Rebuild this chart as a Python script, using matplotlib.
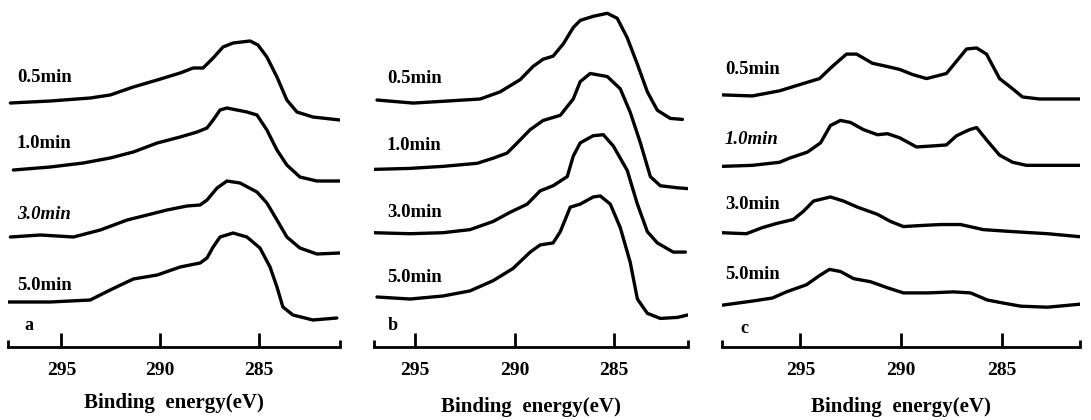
import matplotlib
matplotlib.use("Agg")
import matplotlib.pyplot as plt

plt.rcParams['font.family'] = ['Liberation Serif', 'DejaVu Serif']
plt.rcParams['font.weight'] = 'bold'

# ---------------- data (stacked intensity, a.u.) ----------------
times = ["0.5min", "1.0min", "3.0min", "5.0min"]

# Panel a
a_e05 = [297.58, 295.56, 293.54, 292.53, 291.36, 290.15, 288.99, 288.33, 287.83, 287.32,
         286.82, 286.31, 285.45, 285.05, 284.60, 284.09, 283.59, 283.08, 282.27, 280.91]
a_i05 = [244, 246, 249, 252, 260, 267, 274, 279, 279, 289, 300, 304, 306, 302, 290, 270, 247, 235, 230, 227]
a_e10 = [297.43, 295.56, 293.89, 292.53, 291.36, 290.15, 288.99, 288.13, 287.63, 287.32,
         286.97, 286.62, 285.61, 285.10, 284.60, 284.09, 283.59, 282.93, 282.07, 280.91]
a_i10 = [177, 180, 184, 189, 195, 204, 210, 215, 219, 227, 237, 239, 235, 232, 217, 197, 182, 170, 166, 166]
a_e30 = [297.58, 296.06, 294.39, 293.03, 291.67, 290.86, 289.65, 288.64, 287.98, 287.63,
         287.12, 286.62, 285.96, 285.10, 284.60, 284.09, 283.59, 282.93, 282.07, 280.91]
a_i30 = [110, 112, 110, 117, 127, 131, 137, 141, 142, 147, 159, 166, 164, 155, 144, 127, 110, 99, 93, 94]
a_e50 = [297.68, 295.56, 293.54, 292.53, 291.36, 290.15, 288.99, 287.98, 287.63, 287.32,
         286.97, 286.31, 285.61, 284.95, 284.44, 284.09, 283.79, 283.28, 282.27, 281.06]
a_i50 = [45, 45, 47, 57, 68, 72, 80, 84, 89, 100, 110, 114, 110, 99, 80, 60, 40, 32, 27, 29]

# Panel b
b_e05 = [296.91, 295.10, 293.39, 291.73, 290.73, 289.72, 289.07, 288.57, 288.07, 287.56,
         287.06, 286.71, 286.06, 285.35, 284.85, 284.35, 283.84, 283.34, 282.84, 282.19, 281.58]
b_i05 = [242, 239, 241, 243, 250, 262, 275, 282, 285, 297, 313, 320, 324, 327, 322, 303, 277, 250, 232, 224, 223]
b_e10 = [297.11, 295.25, 293.59, 291.88, 291.08, 290.38, 289.87, 289.22, 288.57, 287.71,
         287.06, 286.71, 286.21, 285.35, 284.70, 284.20, 283.69, 283.19, 282.69, 281.83, 281.18]
b_i10 = [174, 175, 177, 180, 185, 190, 200, 213, 222, 227, 243, 260, 268, 265, 253, 230, 200, 167, 158, 156, 155]
b_e30 = [297.11, 295.25, 293.59, 292.24, 291.08, 290.23, 289.37, 288.72, 288.07, 287.36,
         287.06, 286.71, 286.06, 285.55, 285.05, 284.35, 283.84, 283.34, 282.84, 282.04, 281.43]
b_i30 = [112, 111, 112, 115, 123, 132, 140, 153, 158, 167, 187, 200, 207, 208, 197, 173, 140, 113, 102, 93, 93]
b_e50 = [296.91, 295.25, 293.59, 292.24, 291.08, 290.08, 289.22, 288.72, 288.07, 287.71,
         287.21, 286.71, 286.06, 285.70, 285.20, 284.70, 284.20, 283.84, 283.34, 282.69, 281.83, 281.18]
b_i50 = [49, 47, 50, 55, 65, 77, 93, 100, 102, 113, 137, 140, 147, 148, 140, 117, 83, 47, 33, 28, 29, 32]

# Panel c
c_e05 = [298.88, 297.39, 296.04, 295.05, 294.05, 293.41, 292.71, 292.21, 291.42, 290.72, 290.07,
         289.43, 288.73, 287.74, 287.24, 286.74, 286.24, 285.75, 285.10, 284.45, 283.96, 283.11, 281.97, 281.02]
c_i05 = [247, 246, 251, 257, 263, 275, 287, 287, 278, 275, 272, 267, 263, 268, 280, 292, 293, 287,
         263, 253, 245, 243, 243, 243]
c_e10 = [298.88, 297.39, 296.04, 295.55, 294.65, 294.00, 293.51, 293.01, 292.51, 291.87, 291.17,
         290.67, 290.07, 289.23, 288.43, 287.74, 287.24, 286.59, 286.24, 285.75, 285.10, 284.45,
         283.76, 282.46, 281.02]
c_i10 = [177, 178, 181, 185, 191, 200, 217, 222, 220, 213, 208, 209, 205, 196, 197, 198, 207, 213,
         215, 203, 188, 181, 178, 178, 178]
c_e30 = [298.93, 297.69, 296.89, 296.19, 295.35, 294.85, 294.35, 293.51, 292.86, 292.16, 291.17,
         290.52, 289.88, 289.03, 288.03, 287.04, 285.90, 284.40, 282.71, 281.07]
c_i30 = [112, 111, 117, 121, 125, 133, 143, 147, 143, 137, 130, 123, 118, 119, 120, 120, 115, 113, 111, 108]
c_e50 = [298.88, 297.39, 296.39, 295.70, 294.70, 294.05, 293.56, 293.01, 292.36, 291.52, 290.67,
         289.88, 288.68, 287.39, 286.54, 285.70, 284.90, 284.05, 282.71, 281.07]
c_i50 = [41, 45, 48, 54, 61, 70, 76, 74, 67, 64, 58, 53, 53, 54, 53, 46, 43, 40, 39, 42]

tick_values = [295, 290, 285]
tick_labels = ["295", "290", "285"]
panel_letters = ["a", "b", "c"]
xlabel_text = "Binding  energy(eV)"

# ---------------- layout ----------------
W, H = 1091, 420
AXIS_Y = 347
fig = plt.figure(figsize=(W / 100, H / 100), dpi=100)

panels = [
    dict(px=(8, 340), ytop=347, xlim=(297.7, 280.9),
         series=[(a_e05, a_i05), (a_e10, a_i10), (a_e30, a_i30), (a_e50, a_i50)],
         lab_x=0.027, lab_y=[270, 203, 133, 62], italic=[False, False, True, False],
         let_pos=(0.05, 21), lpad=10),
    dict(px=(374, 688), ytop=340, xlim=(297.06, 281.3),
         series=[(b_e05, b_i05), (b_e10, b_i10), (b_e30, b_i30), (b_e50, b_i50)],
         lab_x=0.041, lab_y=[263, 197, 132, 68], italic=[False, False, False, False],
         let_pos=(0.045, 21), lpad=13),
    dict(px=(722, 1080), ytop=340, xlim=(298.9, 281.1),
         series=[(c_e05, c_i05), (c_e10, c_i10), (c_e30, c_i30), (c_e50, c_i50)],
         lab_x=0.008, lab_y=[272, 203, 140, 71], italic=[False, True, False, False],
         let_pos=(0.05, 18), lpad=13),
]

for p, letter in zip(panels, panel_letters):
    x0, x1 = p["px"]
    ax = fig.add_axes([x0 / W, (H - AXIS_Y) / H, (x1 - x0) / W, AXIS_Y / H])
    ax.set_xlim(*p["xlim"])
    ax.set_ylim(0, p["ytop"])
    for (e, i) in p["series"]:
        ax.plot(e, i, color="black", lw=2.4, solid_capstyle="round", solid_joinstyle="round")
    for s in ["top", "left", "right"]:
        ax.spines[s].set_visible(False)
    ax.spines["bottom"].set_linewidth(2.0)
    ax.set_yticks([])
    ax.set_xticks(tick_values)
    ax.set_xticklabels(tick_labels, fontsize=14, fontweight="bold")
    ax.set_xticks(list(p["xlim"]), minor=True)
    ax.tick_params(axis="x", which="major", direction="in", length=10, width=2.0, pad=11)
    ax.tick_params(axis="x", which="minor", direction="in", length=5, width=2.0)
    ax.set_xlabel(xlabel_text, fontsize=15, fontweight="bold", labelpad=p["lpad"])
    tr = ax.get_yaxis_transform()
    for t, yy, it in zip(times, p["lab_y"], p["italic"]):
        ax.text(p["lab_x"], yy, t, transform=tr, ha="left", va="center", fontsize=13.5,
                fontweight="bold", style="italic" if it else "normal")
    ax.text(p["let_pos"][0], p["let_pos"][1], letter, transform=tr, ha="left", va="center",
            fontsize=13, fontweight="bold")
    ax.patch.set_visible(False)

fig.savefig("out.png", dpi=100)
